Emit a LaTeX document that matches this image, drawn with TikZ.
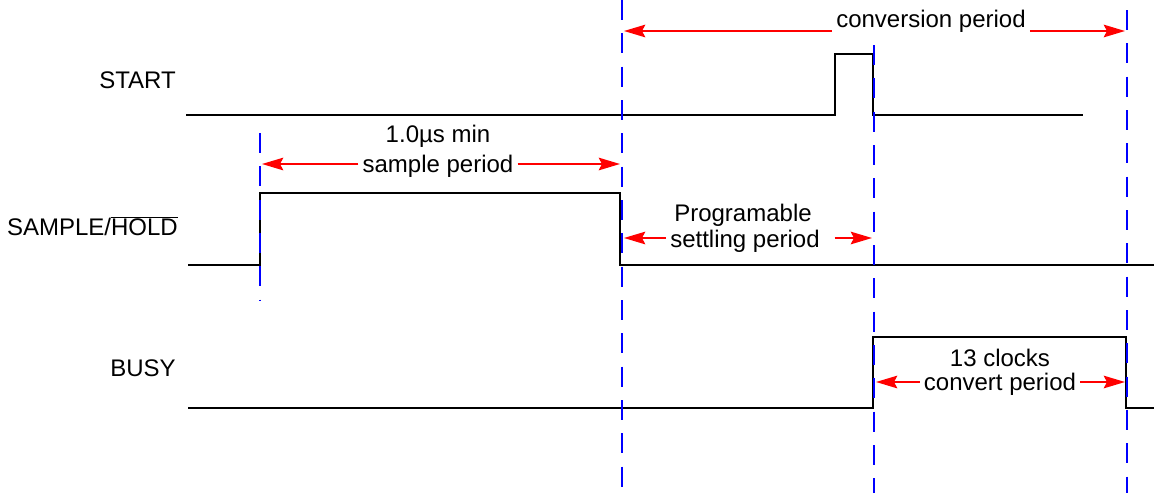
\documentclass[tikz,border=0pt]{standalone}
\usepackage{fontspec}
\setmainfont{Liberation Sans}
\usetikzlibrary{positioning}
\usetikzlibrary{calc}
\usetikzlibrary{arrows.meta}

\tikzset{
  sig/.style={line width=1.3pt, black},
  marker/.style={line width=1.3pt, blue, dash pattern=on 15pt off 10pt},
  dim/.style={line width=1.2pt, red, -{Stealth[length=16pt,width=9.5pt,inset=2.5pt]}},
  lbl/.style={font=\fontsize{18}{21}\selectfont, inner sep=3pt},
}

\begin{document}
\begin{tikzpicture}[x=0.75pt,y=-0.75pt, line join=miter]
	\useasboundingbox (0,0) rectangle (1154,493);
	% signal names
	\node[lbl, anchor=east] (start) at (180,80) {START};
	\node[lbl, anchor=east] (sh) at (182,226) {SAMPLE/$\overline{\hbox{HOLD}}$};
	\node[lbl, anchor=east] (busy) at (180,368) {BUSY};
	% waveforms
	\draw[sig] (186,115) -- (835,115) -- (835,54) -- (873,54) -- (873,115) -- (1083,115);
	\draw[sig] (188,265) -- (260,265) -- (260,193) -- (620,193) -- (620,265) -- (1154,265);
	\draw[sig] (188,408) -- (873,408) -- (873,337) -- (1126,337) -- (1126,408) -- (1154,408);
	% timing marks
	\draw[marker] (260,133) -- (260,300);
	\draw[marker] (622,0) -- (622,493);
	\draw[marker] (874,45) -- (874,493);
	\draw[marker] (1127,10) -- (1127,493);
	% conversion period
	\coordinate (cvL) at (624,31);
	\coordinate (cvR) at (1125,31);
	\node[lbl] (cv) at (931,21) {conversion period};
	\draw[dim] (cv.west |- cvL) -- (cvL);
	\draw[dim] (cv.east |- cvR) -- (cvR);
	% sample period
	\coordinate (spL) at (262,164);
	\coordinate (spR) at (620,164);
	\node[lbl] (sp) at (438,166) {sample period};
	\node[lbl] (spmin) at (438,136) {1.0µs min};
	\draw[dim] (sp.west |- spL) -- (spL);
	\draw[dim] (sp.east |- spR) -- (spR);
	% settling period
	\coordinate (stL) at (624,238);
	\coordinate (stR) at (872,238);
	\node[lbl] (st) at (745,241) {settling period};
	\node[lbl] (stprog) at (743,215) {Programable};
	\draw[dim] (st.west |- stL) -- (stL);
	\draw[dim] ([xshift=8pt]st.east |- stR) -- (stR);
	% convert period
	\coordinate (ccL) at (876,382);
	\coordinate (ccR) at (1125,382);
	\node[lbl] (cc) at (1000,384) {convert period};
	\node[lbl] (ccclk) at (1000,358) {13 clocks};
	\draw[dim] (cc.west |- ccL) -- (ccL);
	\draw[dim] (cc.east |- ccR) -- (ccR);
\end{tikzpicture}
\end{document}
